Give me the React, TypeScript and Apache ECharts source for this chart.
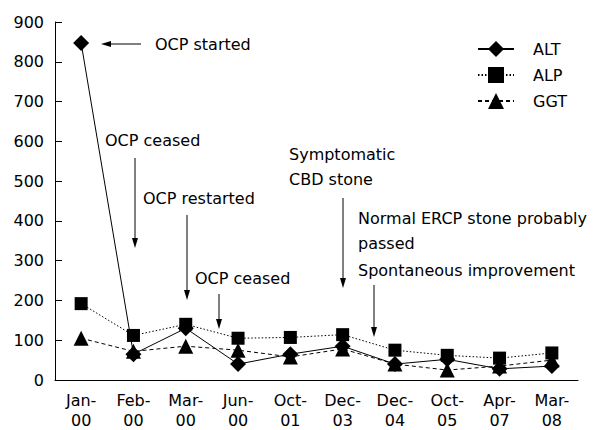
import React, { useEffect, useRef } from "react";
import * as echarts from "echarts";

const categories = ["Jan-\n00", "Feb-\n00", "Mar-\n00", "Jun-\n00", "Oct-\n01", "Dec-\n03", "Dec-\n04", "Oct-\n05", "Apr-\n07", "Mar-\n08"];
const altValues = [847, 65, 130, 40, 65, 85, 40, 52, 28, 35];
const alpValues = [192, 112, 140, 105, 107, 114, 75, 62, 55, 68];
const ggtValues = [105, 72, 85, 75, 58, 78, 40, 25, 35, 50];
const yTicks = { min: 0, max: 900, interval: 100 };

const FONT = "DejaVu Sans";

function downArrow(x: number, y1: number, y2: number) {
  return [
    { type: "line", shape: { x1: x, y1, x2: x, y2: y2 - 6 }, style: { stroke: "#000", lineWidth: 1 } },
    { type: "polygon", shape: { points: [[x - 3, y2 - 10], [x + 3, y2 - 10], [x, y2]] }, style: { fill: "#000" } },
  ];
}

function leftArrow(x1: number, x2: number, y: number) {
  return [
    { type: "line", shape: { x1: x1 + 6, y1: y, x2, y2: y }, style: { stroke: "#000", lineWidth: 1 } },
    { type: "polygon", shape: { points: [[x1 + 10, y - 3], [x1 + 10, y + 3], [x1, y]] }, style: { fill: "#000" } },
  ];
}

function label(x: number, y: number, text: string) {
  return { type: "text", x, y, style: { text, font: `16px "${FONT}"`, fill: "#000", verticalAlign: "middle", align: "left" } };
}

export default function App() {
  const ref = useRef<HTMLDivElement>(null);
  useEffect(() => {
    document.body.style.margin = "0";
    const chart = echarts.init(ref.current!, null, { renderer: "svg" });
    chart.setOption({
      animation: false,
      backgroundColor: "#fff",
      textStyle: { fontFamily: FONT },
      grid: { left: 55, right: 30, top: 22, bottom: 46 },
      legend: {
        orient: "vertical",
        left: 472,
        top: 36,
        itemWidth: 36,
        itemHeight: 20,
        itemGap: 10,
        textStyle: { fontSize: 16, color: "#000", fontFamily: FONT, padding: [0, 0, 0, 14] },
        data: ["ALT", "ALP", "GGT"],
      },
      xAxis: {
        type: "category",
        data: categories,
        boundaryGap: true,
        axisLine: { lineStyle: { color: "#000", width: 1 } },
        axisTick: { inside: true, length: 7, lineStyle: { color: "#000" } },
        axisLabel: { color: "#000", fontSize: 16, lineHeight: 20, margin: 10, interval: 0 },
        splitLine: { show: false },
      },
      yAxis: {
        type: "value",
        min: yTicks.min,
        max: yTicks.max,
        interval: yTicks.interval,
        axisLine: { show: true, lineStyle: { color: "#000", width: 1 } },
        axisTick: { show: true, inside: true, length: 7, lineStyle: { color: "#000" } },
        axisLabel: { color: "#000", fontSize: 16, margin: 11 },
        splitLine: { show: false },
      },
      series: [
        {
          name: "ALT",
          type: "line",
          data: altValues,
          symbol: "diamond",
          symbolSize: 16,
          itemStyle: { color: "#000" },
          lineStyle: { color: "#000", width: 1, type: "solid" },
        },
        {
          name: "ALP",
          type: "line",
          data: alpValues,
          symbol: "rect",
          symbolSize: 13,
          itemStyle: { color: "#000" },
          lineStyle: { color: "#000", width: 1, type: [1.5, 2] },
        },
        {
          name: "GGT",
          type: "line",
          data: ggtValues,
          symbol: "triangle",
          symbolSize: 15,
          itemStyle: { color: "#000" },
          lineStyle: { color: "#000", width: 1, type: [4, 3] },
        },
      ],
      graphic: [
        ...leftArrow(101, 141, 44),
        label(155, 44, "OCP started"),
        label(105, 140, "OCP ceased"),
        ...downArrow(135, 158, 248),
        label(143, 198, "OCP restarted"),
        ...downArrow(187, 215, 300),
        label(195, 278, "OCP ceased"),
        ...downArrow(219, 294, 329),
        label(289, 154, "Symptomatic"),
        label(289, 179, "CBD stone"),
        ...downArrow(343, 198, 288),
        label(358, 218, "Normal ERCP stone probably"),
        label(358, 243, "passed"),
        label(358, 270, "Spontaneous improvement"),
        ...downArrow(374, 285, 337),
      ],
    });
    return () => chart.dispose();
  }, []);
  return <div ref={ref} style={{ width: 608, height: 430 }} />;
}
